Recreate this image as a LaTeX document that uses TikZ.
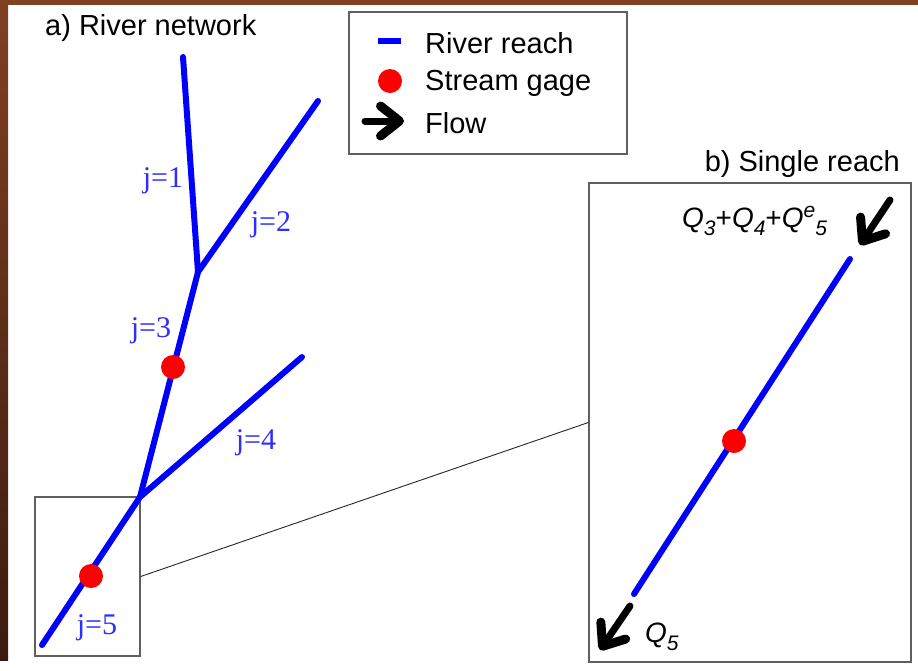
\documentclass[tikz,border=0pt]{standalone}
\usepackage{fontspec}
\setmainfont{Liberation Sans}
\newfontfamily\timesfont{Liberation Serif}
\usetikzlibrary{arrows.meta}
\definecolor{reachblue}{RGB}{0,0,255}
\definecolor{jblue}{RGB}{45,45,255}
\definecolor{gagered}{RGB}{255,0,0}
\definecolor{framegray}{RGB}{95,95,95}
\definecolor{slidetop}{RGB}{128,64,34}
\definecolor{slidebot}{RGB}{60,27,15}
\newcommand{\qsub}[1]{\raisebox{-8pt}{\fontsize{21}{24}\selectfont #1}}
\newcommand{\qsup}[1]{\raisebox{10pt}{\fontsize{21}{24}\selectfont #1}}
\tikzset{
  reach/.style={draw=reachblue, line width=6pt, line cap=round},
  gage/.style={circle, fill=gagered, minimum size=24pt, inner sep=0pt},
  flow/.style={line width=7pt, line cap=round,
    -{Straight Barb[length=19pt, width=30pt, line width=9pt, line cap=round, line join=round]}},
  frame/.style={draw=framegray, line width=1.3pt, fill=white, inner sep=0pt},
  lbl/.style={inner sep=0pt, font=\fontsize{29}{34}\selectfont},
  jlbl/.style={inner sep=0pt, text=jblue, font=\timesfont\fontsize{30}{34}\selectfont},
  qlbl/.style={inner sep=0pt, font=\fontsize{28}{32}\selectfont\itshape}
}

\begin{document}
\begin{tikzpicture}[x=1pt, y=-1pt]
  \useasboundingbox (0,0) rectangle (918,670);
  % slide edge
  \shade[top color=slidetop, bottom color=slidebot] (0,0) rectangle (8,660);
  \fill[slidetop] (0,0) rectangle (918,5);

  % frames
  \node[frame, minimum width=278pt, minimum height=142pt] (legend) at (488,83) {};
  \node[frame, minimum width=105pt, minimum height=159pt] (zoomA) at (87.5,576.5) {};
  \node[frame, minimum width=322pt, minimum height=479pt] (zoomB) at (750,422.5) {};
  \draw[black!85, line width=0.9pt] (zoomA.east) -- (zoomB.west);

  % titles
  \node[lbl, anchor=base west] (titleA) at (45,35) {a) River network};
  \node[lbl, anchor=base east] (titleB) at (900,171) {b) Single reach};

  % legend
  \coordinate (dashL) at (378,41);
  \coordinate (dashR) at (401,41);
  \draw[draw=reachblue, line width=6pt] (dashL) -- (dashR);
  \node[gage] (gageKey) at (390,81) {};
  \coordinate (flowL) at (365,121);
  \coordinate (flowR) at (404,121);
  \draw[flow] (flowL) -- (flowR);
  \node[lbl, anchor=base west] (keyReach) at (425,53) {River reach};
  \node[lbl, anchor=base west] (keyGage) at (425,90) {Stream gage};
  \node[lbl, anchor=base west] (keyFlow) at (425,133) {Flow};

  % river network
  \coordinate (top1) at (183,57);
  \coordinate (top2) at (318,101);
  \coordinate (jn1) at (198,272);
  \coordinate (top4) at (302,357);
  \coordinate (jn2) at (140,497);
  \coordinate (out5) at (42,645);
  \draw[reach] (top1) -- (jn1);
  \draw[reach] (top2) -- (jn1);
  \draw[reach] (jn1) -- (jn2);
  \draw[reach] (top4) -- (jn2);
  \draw[reach] (jn2) -- (out5);
  \node[gage] (gage3) at (173,367) {};
  \node[gage] (gage5) at (91,576) {};
  \node[jlbl] (j1) at (163,181) {j=1};
  \node[jlbl] (j2) at (271,225) {j=2};
  \node[jlbl] (j3) at (151,331) {j=3};
  \node[jlbl] (j4) at (256,443) {j=4};
  \node[jlbl] (j5) at (97,628) {j=5};

  % single reach
  \coordinate (bTop) at (850,259);
  \coordinate (bEnd) at (634,594);
  \draw[reach] (bTop) -- (bEnd);
  \node[gage] (gageB) at (734,441) {};
  \coordinate (inStart) at (890,200);
  \coordinate (inTip) at (860,245);
  \draw[flow] (inStart) -- (inTip);
  \coordinate (outStart) at (630,606);
  \coordinate (outTip) at (600,650);
  \draw[flow] (outStart) -- (outTip);
  \node[qlbl, anchor=base west] (qIn) at (682,227)
    {Q\qsub{3}\textup{+}Q\qsub{4}\textup{+}Q\qsup{e}\qsub{5}};
  \node[qlbl, anchor=base west] (qOut) at (645,642) {Q\qsub{5}};
\end{tikzpicture}
\end{document}
